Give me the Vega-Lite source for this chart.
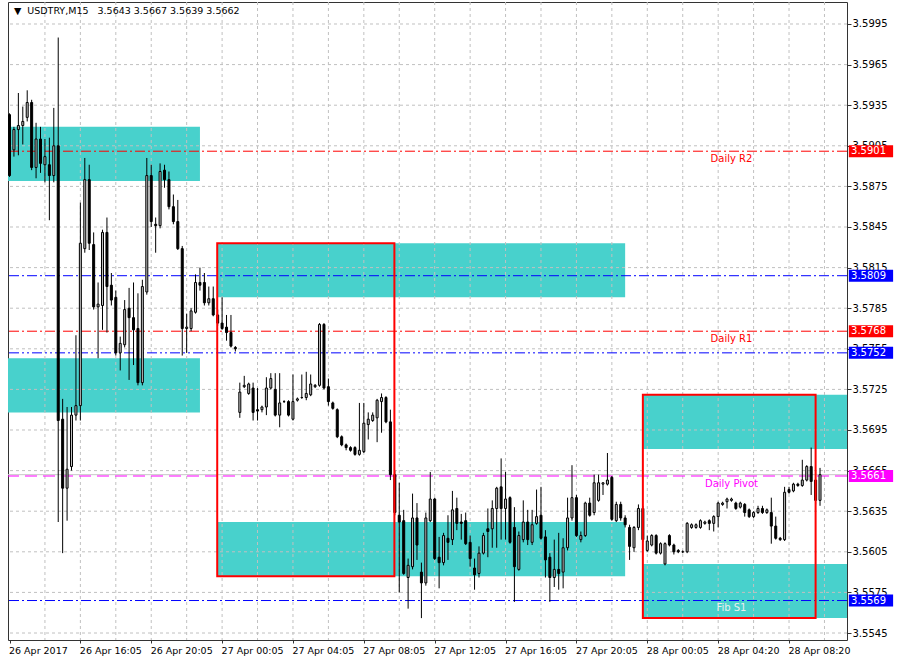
{
"$schema": "https://vega.github.io/schema/vega-lite/v6.json",
"width": 839, "height": 638,
"autosize": {"type": "none"},
"padding": {"left": 8, "top": 2, "right": 51, "bottom": 21},
"background": "#ffffff",
"config": {"view": {"stroke": "#333333", "strokeWidth": 1}, "font": "DejaVu Sans", "axis": {"grid": false, "domain": false, "title": null}, "scale": {"continuousPadding": 0}},
"datasets": {
"header": [{"label": "▼\u00a0\u00a0USDTRY,M15\u00a0\u00a0 3.5643 3.5667 3.5639 3.5662"}],
"candles": [
{"i":0,"o":3.5928,"h":3.5929,"l":3.5882,"c":3.5883},
{"i":1,"o":3.5902,"h":3.5919,"l":3.5897,"c":3.5917},
{"i":2,"o":3.5917,"h":3.5944,"l":3.5898,"c":3.5920},
{"i":3,"o":3.5920,"h":3.5934,"l":3.5906,"c":3.5923},
{"i":4,"o":3.5926,"h":3.5946,"l":3.5923,"c":3.5937},
{"i":5,"o":3.5937,"h":3.5939,"l":3.5887,"c":3.5889},
{"i":6,"o":3.5889,"h":3.5922,"l":3.5881,"c":3.5910},
{"i":7,"o":3.5910,"h":3.5919,"l":3.5885,"c":3.5892},
{"i":8,"o":3.5891,"h":3.5910,"l":3.5878,"c":3.5897},
{"i":9,"o":3.5891,"h":3.5911,"l":3.5850,"c":3.5883},
{"i":10,"o":3.5883,"h":3.5933,"l":3.5878,"c":3.5905},
{"i":11,"o":3.5905,"h":3.5985,"l":3.5627,"c":3.5702},
{"i":12,"o":3.5703,"h":3.5718,"l":3.5604,"c":3.5652},
{"i":13,"o":3.5652,"h":3.5712,"l":3.5628,"c":3.5666},
{"i":14,"o":3.5668,"h":3.5712,"l":3.5665,"c":3.5706},
{"i":15,"o":3.5706,"h":3.5765,"l":3.5702,"c":3.5713},
{"i":16,"o":3.5713,"h":3.5863,"l":3.5702,"c":3.5833},
{"i":17,"o":3.5829,"h":3.5896,"l":3.5826,"c":3.5880},
{"i":18,"o":3.5880,"h":3.5891,"l":3.5828,"c":3.5833},
{"i":19,"o":3.5832,"h":3.5841,"l":3.5784,"c":3.5786},
{"i":20,"o":3.5786,"h":3.5804,"l":3.5748,"c":3.5788},
{"i":21,"o":3.5787,"h":3.5843,"l":3.5769,"c":3.5841},
{"i":22,"o":3.5841,"h":3.5852,"l":3.5767,"c":3.5801},
{"i":23,"o":3.5802,"h":3.5811,"l":3.5787,"c":3.5791},
{"i":24,"o":3.5793,"h":3.5798,"l":3.5750,"c":3.5752},
{"i":25,"o":3.5752,"h":3.5764,"l":3.5739,"c":3.5759},
{"i":26,"o":3.5758,"h":3.5791,"l":3.5756,"c":3.5784},
{"i":27,"o":3.5785,"h":3.5800,"l":3.5732,"c":3.5778},
{"i":28,"o":3.5778,"h":3.5804,"l":3.5743,"c":3.5769},
{"i":29,"o":3.5770,"h":3.5796,"l":3.5728,"c":3.5730},
{"i":30,"o":3.5730,"h":3.5806,"l":3.5728,"c":3.5801},
{"i":31,"o":3.5797,"h":3.5896,"l":3.5795,"c":3.5883},
{"i":32,"o":3.5883,"h":3.5891,"l":3.5845,"c":3.5849},
{"i":33,"o":3.5847,"h":3.5852,"l":3.5826,"c":3.5846},
{"i":34,"o":3.5846,"h":3.5892,"l":3.5844,"c":3.5886},
{"i":35,"o":3.5887,"h":3.5891,"l":3.5874,"c":3.5880},
{"i":36,"o":3.5880,"h":3.5886,"l":3.5858,"c":3.5860},
{"i":37,"o":3.5860,"h":3.5869,"l":3.5847,"c":3.5849},
{"i":38,"o":3.5849,"h":3.5865,"l":3.5828,"c":3.5829},
{"i":39,"o":3.5829,"h":3.5831,"l":3.5750,"c":3.5770},
{"i":40,"o":3.5770,"h":3.5781,"l":3.5752,"c":3.5771},
{"i":41,"o":3.5770,"h":3.5785,"l":3.5768,"c":3.5783},
{"i":42,"o":3.5782,"h":3.5810,"l":3.5781,"c":3.5804},
{"i":43,"o":3.5804,"h":3.5815,"l":3.5798,"c":3.5802},
{"i":44,"o":3.5804,"h":3.5811,"l":3.5787,"c":3.5789},
{"i":45,"o":3.5789,"h":3.5801,"l":3.5787,"c":3.5792},
{"i":46,"o":3.5792,"h":3.5801,"l":3.5779,"c":3.5780},
{"i":47,"o":3.5780,"h":3.5784,"l":3.5772,"c":3.5774},
{"i":48,"o":3.5774,"h":3.5793,"l":3.5769,"c":3.5770},
{"i":49,"o":3.5771,"h":3.5780,"l":3.5761,"c":3.5767},
{"i":50,"o":3.5767,"h":3.5780,"l":3.5756,"c":3.5757},
{"i":51,"o":3.5756,"h":3.5757,"l":3.5753,"c":3.5755},
{"i":52,"o":3.5708,"h":3.5730,"l":3.5704,"c":3.5723},
{"i":53,"o":3.5727,"h":3.5735,"l":3.5726,"c":3.5728},
{"i":54,"o":3.5722,"h":3.5730,"l":3.5721,"c":3.5729},
{"i":55,"o":3.5726,"h":3.5730,"l":3.5702,"c":3.5708},
{"i":56,"o":3.5710,"h":3.5726,"l":3.5702,"c":3.5709},
{"i":57,"o":3.5710,"h":3.5713,"l":3.5708,"c":3.5712},
{"i":58,"o":3.5712,"h":3.5734,"l":3.5706,"c":3.5726},
{"i":59,"o":3.5726,"h":3.5737,"l":3.5725,"c":3.5733},
{"i":60,"o":3.5725,"h":3.5737,"l":3.5705,"c":3.5706},
{"i":61,"o":3.5706,"h":3.5737,"l":3.5697,"c":3.5715},
{"i":62,"o":3.5716,"h":3.5717,"l":3.5715,"c":3.5716},
{"i":63,"o":3.5716,"h":3.5717,"l":3.5705,"c":3.5706},
{"i":64,"o":3.5703,"h":3.5736,"l":3.5702,"c":3.5716},
{"i":65,"o":3.5717,"h":3.5719,"l":3.5716,"c":3.5718},
{"i":66,"o":3.5719,"h":3.5736,"l":3.5718,"c":3.5719},
{"i":67,"o":3.5719,"h":3.5738,"l":3.5717,"c":3.5722},
{"i":68,"o":3.5721,"h":3.5736,"l":3.5720,"c":3.5729},
{"i":69,"o":3.5727,"h":3.5729,"l":3.5726,"c":3.5728},
{"i":70,"o":3.5728,"h":3.5774,"l":3.5727,"c":3.5773},
{"i":71,"o":3.5773,"h":3.5774,"l":3.5725,"c":3.5726},
{"i":72,"o":3.5727,"h":3.5733,"l":3.5713,"c":3.5716},
{"i":73,"o":3.5715,"h":3.5716,"l":3.5710,"c":3.5711},
{"i":74,"o":3.5710,"h":3.5711,"l":3.5689,"c":3.5690},
{"i":75,"o":3.5690,"h":3.5691,"l":3.5683,"c":3.5684},
{"i":76,"o":3.5684,"h":3.5685,"l":3.5680,"c":3.5682},
{"i":77,"o":3.5682,"h":3.5683,"l":3.5679,"c":3.5680},
{"i":78,"o":3.5682,"h":3.5683,"l":3.5676,"c":3.5677},
{"i":79,"o":3.5677,"h":3.5715,"l":3.5676,"c":3.5680},
{"i":80,"o":3.5679,"h":3.5715,"l":3.5678,"c":3.5700},
{"i":81,"o":3.5699,"h":3.5708,"l":3.5688,"c":3.5703},
{"i":82,"o":3.5702,"h":3.5708,"l":3.5701,"c":3.5706},
{"i":83,"o":3.5704,"h":3.5718,"l":3.5686,"c":3.5717},
{"i":84,"o":3.5716,"h":3.5722,"l":3.5693,"c":3.5719},
{"i":85,"o":3.5719,"h":3.5720,"l":3.5700,"c":3.5701},
{"i":86,"o":3.5701,"h":3.5710,"l":3.5658,"c":3.5662},
{"i":87,"o":3.5662,"h":3.5665,"l":3.5632,"c":3.5634},
{"i":88,"o":3.5632,"h":3.5656,"l":3.5575,"c":3.5627},
{"i":89,"o":3.5628,"h":3.5636,"l":3.5588,"c":3.5589},
{"i":90,"o":3.5586,"h":3.5600,"l":3.5563,"c":3.5595},
{"i":91,"o":3.5594,"h":3.5648,"l":3.5592,"c":3.5630},
{"i":92,"o":3.5630,"h":3.5641,"l":3.5599,"c":3.5610},
{"i":93,"o":3.5590,"h":3.5597,"l":3.5556,"c":3.5582},
{"i":94,"o":3.5582,"h":3.5634,"l":3.5580,"c":3.5630},
{"i":95,"o":3.5628,"h":3.5664,"l":3.5627,"c":3.5644},
{"i":96,"o":3.5644,"h":3.5645,"l":3.5599,"c":3.5600},
{"i":97,"o":3.5601,"h":3.5616,"l":3.5578,"c":3.5597},
{"i":98,"o":3.5597,"h":3.5619,"l":3.5595,"c":3.5617},
{"i":99,"o":3.5615,"h":3.5632,"l":3.5599,"c":3.5612},
{"i":100,"o":3.5614,"h":3.5650,"l":3.5610,"c":3.5636},
{"i":101,"o":3.5637,"h":3.5645,"l":3.5621,"c":3.5626},
{"i":102,"o":3.5627,"h":3.5633,"l":3.5614,"c":3.5626},
{"i":103,"o":3.5628,"h":3.5634,"l":3.5610,"c":3.5611},
{"i":104,"o":3.5612,"h":3.5617,"l":3.5594,"c":3.5600},
{"i":105,"o":3.5593,"h":3.5600,"l":3.5577,"c":3.5588},
{"i":106,"o":3.5589,"h":3.5609,"l":3.5586,"c":3.5604},
{"i":107,"o":3.5604,"h":3.5619,"l":3.5603,"c":3.5617},
{"i":108,"o":3.5622,"h":3.5637,"l":3.5601,"c":3.5620},
{"i":109,"o":3.5622,"h":3.5643,"l":3.5608,"c":3.5637},
{"i":110,"o":3.5637,"h":3.5653,"l":3.5608,"c":3.5652},
{"i":111,"o":3.5653,"h":3.5674,"l":3.5614,"c":3.5637},
{"i":112,"o":3.5637,"h":3.5664,"l":3.5614,"c":3.5644},
{"i":113,"o":3.5645,"h":3.5646,"l":3.5611,"c":3.5612},
{"i":114,"o":3.5623,"h":3.5638,"l":3.5568,"c":3.5594},
{"i":115,"o":3.5592,"h":3.5620,"l":3.5591,"c":3.5617},
{"i":116,"o":3.5614,"h":3.5643,"l":3.5612,"c":3.5627},
{"i":117,"o":3.5627,"h":3.5636,"l":3.5610,"c":3.5614},
{"i":118,"o":3.5612,"h":3.5636,"l":3.5610,"c":3.5625},
{"i":119,"o":3.5626,"h":3.5651,"l":3.5625,"c":3.5631},
{"i":120,"o":3.5632,"h":3.5653,"l":3.5614,"c":3.5615},
{"i":121,"o":3.5616,"h":3.5621,"l":3.5586,"c":3.5599},
{"i":122,"o":3.5601,"h":3.5604,"l":3.5568,"c":3.5586},
{"i":123,"o":3.5586,"h":3.5614,"l":3.5579,"c":3.5592},
{"i":124,"o":3.5592,"h":3.5619,"l":3.5577,"c":3.5589},
{"i":125,"o":3.5590,"h":3.5615,"l":3.5578,"c":3.5608},
{"i":126,"o":3.5608,"h":3.5645,"l":3.5606,"c":3.5630},
{"i":127,"o":3.5630,"h":3.5669,"l":3.5628,"c":3.5645},
{"i":128,"o":3.5645,"h":3.5647,"l":3.5616,"c":3.5617},
{"i":129,"o":3.5614,"h":3.5620,"l":3.5612,"c":3.5617},
{"i":130,"o":3.5617,"h":3.5642,"l":3.5616,"c":3.5641},
{"i":131,"o":3.5641,"h":3.5645,"l":3.5631,"c":3.5632},
{"i":132,"o":3.5634,"h":3.5662,"l":3.5632,"c":3.5656},
{"i":133,"o":3.5643,"h":3.5662,"l":3.5642,"c":3.5656},
{"i":134,"o":3.5655,"h":3.5656,"l":3.5647,"c":3.5656},
{"i":135,"o":3.5655,"h":3.5678,"l":3.5654,"c":3.5658},
{"i":136,"o":3.5660,"h":3.5661,"l":3.5628,"c":3.5629},
{"i":137,"o":3.5628,"h":3.5642,"l":3.5627,"c":3.5640},
{"i":138,"o":3.5640,"h":3.5642,"l":3.5628,"c":3.5630},
{"i":139,"o":3.5630,"h":3.5632,"l":3.5623,"c":3.5625},
{"i":140,"o":3.5623,"h":3.5625,"l":3.5599,"c":3.5609},
{"i":141,"o":3.5608,"h":3.5624,"l":3.5605,"c":3.5623},
{"i":142,"o":3.5623,"h":3.5640,"l":3.5621,"c":3.5637},
{"i":143,"o":3.5637,"h":3.5639,"l":3.5612,"c":3.5614},
{"i":144,"o":3.5606,"h":3.5617,"l":3.5605,"c":3.5613},
{"i":145,"o":3.5610,"h":3.5618,"l":3.5609,"c":3.5617},
{"i":146,"o":3.5617,"h":3.5618,"l":3.5603,"c":3.5604},
{"i":147,"o":3.5604,"h":3.5612,"l":3.5603,"c":3.5611},
{"i":148,"o":3.5596,"h":3.5612,"l":3.5595,"c":3.5611},
{"i":149,"o":3.5617,"h":3.5618,"l":3.5609,"c":3.5610},
{"i":150,"o":3.5610,"h":3.5611,"l":3.5603,"c":3.5605},
{"i":151,"o":3.5606,"h":3.5607,"l":3.5604,"c":3.5605},
{"i":152,"o":3.5605,"h":3.5606,"l":3.5604,"c":3.5605},
{"i":153,"o":3.5605,"h":3.5627,"l":3.5604,"c":3.5626},
{"i":154,"o":3.5623,"h":3.5626,"l":3.5622,"c":3.5625},
{"i":155,"o":3.5623,"h":3.5626,"l":3.5622,"c":3.5625},
{"i":156,"o":3.5623,"h":3.5629,"l":3.5622,"c":3.5628},
{"i":157,"o":3.5626,"h":3.5628,"l":3.5625,"c":3.5627},
{"i":158,"o":3.5628,"h":3.5629,"l":3.5621,"c":3.5626},
{"i":159,"o":3.5626,"h":3.5632,"l":3.5620,"c":3.5631},
{"i":160,"o":3.5631,"h":3.5642,"l":3.5623,"c":3.5641},
{"i":161,"o":3.5640,"h":3.5642,"l":3.5639,"c":3.5641},
{"i":162,"o":3.5642,"h":3.5645,"l":3.5637,"c":3.5644},
{"i":163,"o":3.5643,"h":3.5645,"l":3.5642,"c":3.5644},
{"i":164,"o":3.5641,"h":3.5642,"l":3.5636,"c":3.5637},
{"i":165,"o":3.5638,"h":3.5642,"l":3.5637,"c":3.5641},
{"i":166,"o":3.5640,"h":3.5641,"l":3.5631,"c":3.5634},
{"i":167,"o":3.5636,"h":3.5637,"l":3.5630,"c":3.5631},
{"i":168,"o":3.5631,"h":3.5635,"l":3.5630,"c":3.5634},
{"i":169,"o":3.5634,"h":3.5639,"l":3.5633,"c":3.5637},
{"i":170,"o":3.5637,"h":3.5639,"l":3.5633,"c":3.5634},
{"i":171,"o":3.5634,"h":3.5637,"l":3.5633,"c":3.5636},
{"i":172,"o":3.5634,"h":3.5645,"l":3.5611,"c":3.5624},
{"i":173,"o":3.5624,"h":3.5631,"l":3.5614,"c":3.5615},
{"i":174,"o":3.5615,"h":3.5616,"l":3.5613,"c":3.5614},
{"i":175,"o":3.5614,"h":3.5653,"l":3.5613,"c":3.5649},
{"i":176,"o":3.5651,"h":3.5653,"l":3.5648,"c":3.5649},
{"i":177,"o":3.5650,"h":3.5656,"l":3.5649,"c":3.5655},
{"i":178,"o":3.5655,"h":3.5656,"l":3.5653,"c":3.5654},
{"i":179,"o":3.5654,"h":3.5673,"l":3.5653,"c":3.5658},
{"i":180,"o":3.5658,"h":3.5669,"l":3.5657,"c":3.5668},
{"i":181,"o":3.5668,"h":3.5682,"l":3.5647,"c":3.5657},
{"i":182,"o":3.5658,"h":3.5665,"l":3.5640,"c":3.5643},
{"i":183,"o":3.5643,"h":3.5667,"l":3.5639,"c":3.5662}
],
"zones": [
{"x1": -1, "x2": 43.0, "top": 3.5919, "bottom": 3.5879},
{"x1": -1, "x2": 43.0, "top": 3.5748, "bottom": 3.5708},
{"x1": 47.0, "x2": 139.0, "top": 3.5833, "bottom": 3.5793},
{"x1": 47.0, "x2": 139.0, "top": 3.5627, "bottom": 3.5587},
{"x1": 143.0, "x2": 195, "top": 3.5721, "bottom": 3.5681},
{"x1": 143.0, "x2": 195, "top": 3.5596, "bottom": 3.5556}
],
"boxes": [
{"x1": 46.9, "x2": 86.9, "top": 3.5833, "bottom": 3.5587},
{"x1": 143.0, "x2": 182.0, "top": 3.5721, "bottom": 3.5556}
],
"levels": [
{"name": "Daily R2", "price": 3.5901, "label": "Daily R2"},
{"name": "Fib R2", "price": 3.5809},
{"name": "Daily R1", "price": 3.5768, "label": "Daily R1"},
{"name": "Fib R1", "price": 3.5752},
{"name": "Daily Pivot", "price": 3.5661, "label": "Daily Pivot"},
{"name": "Fib S1", "price": 3.5569, "label": "Fib S1"}
],
"bid": [{"price": 3.5662}],
"ygrid": [{"p":3.5545},{"p":3.5575},{"p":3.5605},{"p":3.5635},{"p":3.5665},{"p":3.5695},{"p":3.5725},{"p":3.5755},{"p":3.5785},{"p":3.5815},{"p":3.5845},{"p":3.5875},{"p":3.5905},{"p":3.5935},{"p":3.5965},{"p":3.5995}],
"xgrid": [{"b":8},{"b":16},{"b":24},{"b":32},{"b":40},{"b":48},{"b":56},{"b":64},{"b":72},{"b":80},{"b":88},{"b":96},{"b":104},{"b":112},{"b":120},{"b":128},{"b":136},{"b":144},{"b":152},{"b":160},{"b":168},{"b":176},{"b":184}]
},
"layer": [
{"data": {"name": "zones"}, "mark": {"type": "rect", "color": "#48d1cc", "clip": true},
 "encoding": {
  "x": {"field": "x1", "type": "quantitative", "title": null, "scale": {"domain": [-0.339, 189.09], "nice": false, "zero": false, "padding": 0},
   "axis": {"values": [0, 16, 32, 48, 64, 80, 96, 112, 128, 144, 160, 176], "labelExpr": "['26 Apr 2017','26 Apr 16:05','26 Apr 20:05','27 Apr 00:05','27 Apr 04:05','27 Apr 08:05','27 Apr 12:05','27 Apr 16:05','27 Apr 20:05','28 Apr 00:05','28 Apr 04:20','28 Apr 08:20'][round(datum.value/16)]", "labelAlign": "left", "labelOffset": -1, "labelPadding": 2, "tickSize": 3, "tickColor": "#333333", "labelColor": "#000000", "labelFont": "DejaVu Sans", "labelFontSize": 9.5, "labelOverlap": false, "labelFlush": false, "labelBound": false, "domain": false, "grid": false, "title": null}},
  "x2": {"field": "x2"},
  "y": {"field": "top", "type": "quantitative", "title": null, "scale": {"domain": [3.553983, 3.601125], "nice": false, "zero": false, "padding": 0},
   "axis": {"orient": "right", "values": [3.5545, 3.5575, 3.5605, 3.5635, 3.5665, 3.5695, 3.5725, 3.5755, 3.5785, 3.5815, 3.5845, 3.5875, 3.5905, 3.5935, 3.5965, 3.5995], "format": ".4f", "labelPadding": 1, "tickSize": 4, "tickColor": "#333333", "labelColor": "#000000", "labelFont": "DejaVu Sans", "labelFontSize": 10, "labelOverlap": false, "labelFlush": false, "domain": false, "grid": false, "title": null}},
  "y2": {"field": "bottom"}}},
{"data": {"name": "ygrid"}, "mark": {"type": "rule", "color": "#c0c0c0", "strokeWidth": 1, "strokeDash": [3, 3]},
 "encoding": {"y": {"field": "p", "type": "quantitative", "title": null}}},
{"data": {"name": "xgrid"}, "mark": {"type": "rule", "color": "#c0c0c0", "strokeWidth": 1, "strokeDash": [3, 3]},
 "encoding": {"x": {"field": "b", "type": "quantitative", "title": null}}},
{"data": {"name": "bid"}, "mark": {"type": "rule", "color": "#c8c8c8", "strokeWidth": 1},
 "encoding": {"y": {"field": "price", "type": "quantitative", "title": null}}},
{"data": {"name": "levels"}, "mark": {"type": "rule", "strokeWidth": 1},
 "encoding": {
  "y": {"field": "price", "type": "quantitative", "title": null},
  "color": {"field": "name", "type": "nominal", "legend": null, "scale": {"domain": ["Daily R2", "Fib R2", "Daily R1", "Fib R1", "Daily Pivot", "Fib S1"], "range": ["#ff0000", "#0000ff", "#ff0000", "#0000ff", "#ff00ff", "#0000ff"]}},
  "strokeDash": {"field": "name", "type": "nominal", "legend": null, "scale": {"domain": ["Daily R2", "Fib R2", "Daily R1", "Fib R1", "Daily Pivot", "Fib S1"], "range": [[10, 3, 2, 3], [10, 3, 2, 3], [10, 3, 2, 3], [10, 3, 2, 3, 2, 3], [12, 6], [10, 3, 2, 3]]}}}},
{"data": {"name": "candles"}, "mark": {"type": "rule", "color": "#000000", "strokeWidth": 1},
 "encoding": {
  "x": {"field": "i", "type": "quantitative", "title": null},
  "y": {"field": "l", "type": "quantitative", "title": null},
  "y2": {"field": "h"}}},
{"data": {"name": "candles"}, "mark": {"type": "bar", "width": 2, "stroke": "#000000", "strokeWidth": 1},
 "encoding": {
  "x": {"field": "i", "type": "quantitative", "title": null},
  "y": {"field": "o", "type": "quantitative", "title": null},
  "y2": {"field": "c"},
  "color": {"condition": {"test": "datum.c > datum.o", "value": "#c0c0c0"}, "value": "#000000"}}},
{"data": {"name": "boxes"}, "mark": {"type": "rect", "filled": false, "color": "#ff0000", "strokeWidth": 2},
 "encoding": {
  "x": {"field": "x1", "type": "quantitative", "title": null},
  "x2": {"field": "x2"},
  "y": {"field": "top", "type": "quantitative", "title": null},
  "y2": {"field": "bottom"}}},
{"data": {"name": "levels"}, "transform": [{"filter": "isValid(datum.label)"}],
 "mark": {"type": "text", "align": "center", "baseline": "middle", "dy": 7.5, "fontSize": 10, "font": "DejaVu Sans"},
 "encoding": {
  "x": {"datum": 163, "type": "quantitative", "title": null},
  "y": {"field": "price", "type": "quantitative", "title": null},
  "text": {"field": "label"},
  "fill": {"field": "name", "type": "nominal", "legend": null, "scale": {"domain": ["Daily R2", "Daily R1", "Daily Pivot", "Fib S1"], "range": ["#ff0000", "#ff0000", "#ff00ff", "#eeeeee"]}}}},
{"data": {"name": "levels"}, "mark": {"type": "bar", "size": 12, "clip": false},
 "encoding": {
  "x": {"datum": 189.5, "type": "quantitative", "title": null},
  "x2": {"datum": 199.5},
  "y": {"field": "price", "type": "quantitative", "title": null},
  "color": {"field": "name", "type": "nominal", "legend": null, "scale": {"domain": ["Daily R2", "Fib R2", "Daily R1", "Fib R1", "Daily Pivot", "Fib S1"], "range": ["#ff0000", "#0000ff", "#ff0000", "#0000ff", "#ff00ff", "#0000ff"]}}}},
{"data": {"name": "levels"}, "mark": {"type": "text", "align": "left", "baseline": "middle", "fontSize": 10, "font": "DejaVu Sans", "color": "#ffffff", "clip": false},
 "encoding": {
  "x": {"datum": 190.0, "type": "quantitative", "title": null},
  "y": {"field": "price", "type": "quantitative", "title": null},
  "text": {"field": "price", "type": "quantitative", "format": ".4f"}}},
{"data": {"name": "header"}, "mark": {"type": "text", "align": "left", "baseline": "alphabetic", "fontSize": 9.5, "font": "DejaVu Sans", "color": "#000000"},
 "encoding": {
  "x": {"datum": 1.0, "type": "quantitative", "title": null},
  "y": {"datum": 3.60024, "type": "quantitative", "title": null},
  "text": {"field": "label"}}}
]
}
